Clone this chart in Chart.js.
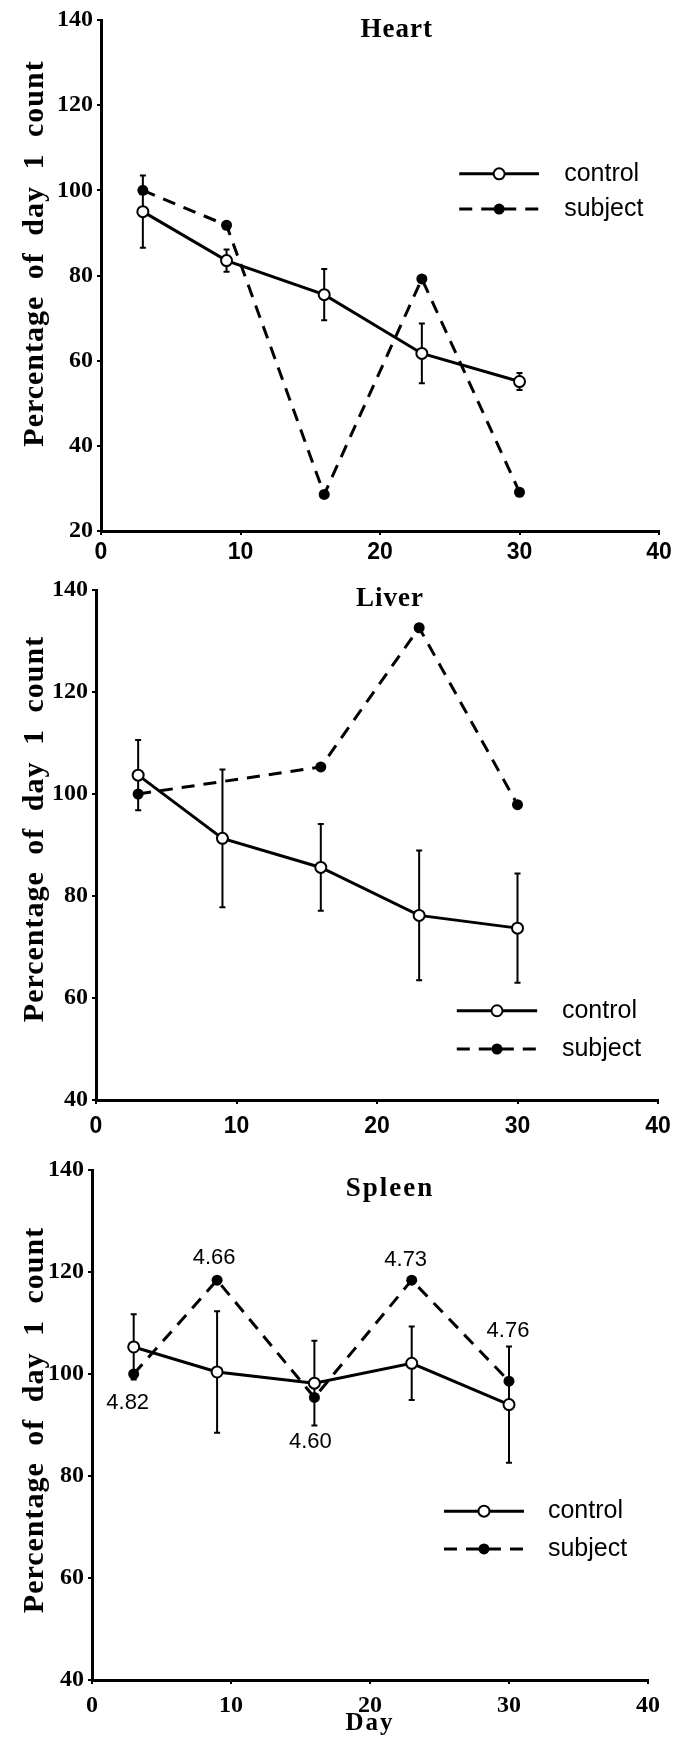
<!DOCTYPE html>
<html><head><meta charset="utf-8">
<script src="https://cdn.jsdelivr.net/npm/chart.js@4/dist/chart.umd.min.js"></script>
<style>
html,body{margin:0;padding:0;background:#fff;}
body{width:673px;height:1749px;position:relative;overflow:hidden;}
.panel{position:absolute;left:0;width:673px;}
</style></head><body>
<div class="panel" style="top:0;height:575px"><canvas id="heart"></canvas></div>
<div class="panel" style="top:575px;height:565px"><canvas id="liver"></canvas></div>
<div class="panel" style="top:1140px;height:609px"><canvas id="spleen"></canvas></div>
<script>
// ---------- data ----------
const days = [3, 9, 16, 23, 30];
const xTickValues = [0, 10, 20, 30, 40];
const heartYTicks = [20, 40, 60, 80, 100, 120, 140];
const organYTicks = [40, 60, 80, 100, 120, 140];
const seriesNames = ['control', 'subject'];
const yAxisTitle = 'Percentage of day 1 count';
const xAxisTitle = 'Day';

const heartControl = [95, 83.5, 75.5, 61.7, 55.1];
const heartControlErr = [8.5, 2.6, 6, 7, 2];
const heartSubject = [100, 91.8, 28.6, 79.2, 29.1];

const liverControl = [103.7, 91.3, 85.6, 76.2, 73.7];
const liverControlErr = [6.9, 13.5, 8.5, 12.7, 10.7];
const liverSubject = [100, null, 105.3, 132.6, 97.9];

const spleenControl = [105.3, 100.4, 98.2, 102.1, 94];
const spleenControlErr = [6.4, 11.9, 8.3, 7.2, 11.4];
const spleenSubject = [100, 118.4, 95.4, 118.4, 98.6];
const spleenSubjectLabels = ['4.82', '4.66', '4.60', '4.73', '4.76'];

// ---------- layout / style ----------
const SERIF = '"Liberation Serif", "Times New Roman", serif';
const SANS = '"Liberation Sans", Arial, sans-serif';
const panels = [
  { id: 'heart', title: 'Heart', yMin: 20, yMax: 140, yTicks: heartYTicks,
    control: heartControl, err: heartControlErr, subject: heartSubject,
    H: 575, top: 20, left: 101, right: 14, xh: 44, xFont: {family: SANS, size: 23, weight: 'bold'}, xPad: 4,
    yTitleShift: -22,
    titlePos: [0.53, 10], legend: {x1: 0.642, x2: 0.785, tx: 0.83, y: [0.301, 0.37]} },
  { id: 'liver', title: 'Liver', yMin: 40, yMax: 140, yTicks: organYTicks,
    control: liverControl, err: liverControlErr, subject: liverSubject,
    H: 565, top: 15, left: 96, right: 15, xh: 40, xFont: {family: SANS, size: 23, weight: 'bold'}, xPad: 9,
    yTitleShift: -16,
    titlePos: [0.523, 9], legend: {x1: 0.642, x2: 0.785, tx: 0.829, y: [0.825, 0.9]} },
  { id: 'spleen', title: 'Spleen', yMin: 40, yMax: 140, yTicks: organYTicks,
    control: spleenControl, err: spleenControlErr, subject: spleenSubject,
    labels: spleenSubjectLabels, labelOffsets: [[-6, 29], [-3, -22], [-4, 44], [-6, -20], [-1, -50]],
    H: 609, top: 30, left: 92, right: 25, xh: 69, xFont: {family: SERIF, size: 24, weight: 'bold'}, xPad: 7,
    yTitleShift: -5,
    xTitle: true, titlePos: [0.536, 19], legend: {x1: 0.633, x2: 0.777, tx: 0.82, y: [0.669, 0.743]} }
];

const DASH = [13, 9];

function drawMarker(ctx, x, y, k) {
  ctx.save();
  ctx.setLineDash([]);
  ctx.beginPath();
  ctx.arc(x, y, 5.5, 0, Math.PI * 2);
  if (k === 0) {
    ctx.fillStyle = '#fff'; ctx.fill();
    ctx.lineWidth = 2; ctx.strokeStyle = '#000'; ctx.stroke();
  } else {
    ctx.fillStyle = '#000'; ctx.fill();
  }
  ctx.restore();
}

function extras(P) {
  return {
    id: 'extras',
    beforeDraw(chart) {
      const sy = chart.scales.y, sx = chart.scales.x;
      if (sy && !sy._spaced) {
        const orig = sy.drawTitle;
        sy.drawTitle = function () {
          const c = this.ctx; c.save();
          c.translate(0, P.yTitleShift);
          try { c.letterSpacing = '1px'; c.wordSpacing = '8px'; } catch (e) {}
          orig.apply(this, arguments);
          c.restore();
        };
        sy._spaced = true;
      }
      if (sx && !sx._spaced) {
        const origx = sx.drawTitle;
        sx.drawTitle = function () {
          const c = this.ctx; c.save();
          try { c.letterSpacing = '2px'; } catch (e) {}
          origx.apply(this, arguments);
          c.restore();
        };
        sx._spaced = true;
      }
    },
    beforeDatasetsDraw(chart) {
      const ctx = chart.ctx, xs = chart.scales.x, ys = chart.scales.y;
      ctx.save();
      ctx.strokeStyle = '#000'; ctx.lineWidth = 2;
      P.control.forEach((v, i) => {
        if (v == null) return;
        const x = xs.getPixelForValue(days[i]);
        const y1 = ys.getPixelForValue(v + P.err[i]);
        const y2 = ys.getPixelForValue(v - P.err[i]);
        ctx.beginPath();
        ctx.moveTo(x, y1); ctx.lineTo(x, y2);
        ctx.moveTo(x - 3, y1); ctx.lineTo(x + 3, y1);
        ctx.moveTo(x - 3, y2); ctx.lineTo(x + 3, y2);
        ctx.stroke();
      });
      ctx.restore();
    },
    afterDraw(chart) {
      const ctx = chart.ctx, a = chart.chartArea, xs = chart.scales.x, ys = chart.scales.y;
      const w = a.right - a.left, h = a.bottom - a.top;
      ctx.save();
      // panel title
      ctx.fillStyle = '#000';
      ctx.font = 'bold 27px ' + SERIF;
      try { ctx.letterSpacing = P.id === 'spleen' ? '2px' : '1px'; } catch (e) {}
      ctx.textAlign = 'center'; ctx.textBaseline = 'middle';
      ctx.fillText(P.title, a.left + P.titlePos[0] * w, a.top + P.titlePos[1]);
      try { ctx.letterSpacing = '0px'; } catch (e) {}
      // legend
      const L = P.legend;
      seriesNames.forEach((name, k) => {
        const y = a.top + L.y[k] * h;
        const x1 = a.left + L.x1 * w, x2 = a.left + L.x2 * w;
        ctx.save();
        ctx.strokeStyle = '#000'; ctx.lineWidth = 3;
        ctx.setLineDash(k === 0 ? [] : DASH);
        ctx.beginPath(); ctx.moveTo(x1, y); ctx.lineTo(x2, y); ctx.stroke();
        ctx.restore();
        drawMarker(ctx, (x1 + x2) / 2, y, k);
        ctx.fillStyle = '#000';
        ctx.font = '25px ' + SANS;
        ctx.textAlign = 'left'; ctx.textBaseline = 'middle';
        ctx.fillText(name, a.left + L.tx * w, y);
      });
      // point annotations
      if (P.labels) {
        ctx.font = '22px ' + SANS;
        ctx.textAlign = 'center'; ctx.textBaseline = 'middle';
        P.labels.forEach((t, i) => {
          const x = xs.getPixelForValue(days[i]) + P.labelOffsets[i][0];
          const y = ys.getPixelForValue(P.subject[i]) + P.labelOffsets[i][1];
          ctx.fillText(t, x, y);
        });
      }
      ctx.restore();
    }
  };
}

panels.forEach(P => {
  const ctx = document.getElementById(P.id);
  new Chart(ctx, {
    type: 'line',
    data: {
      datasets: [
        { label: seriesNames[0], data: days.map((d, i) => ({x: d, y: P.control[i]})),
          borderColor: '#000', borderWidth: 3, tension: 0,
          pointRadius: 5.5, pointBorderWidth: 2, pointBackgroundColor: '#fff', pointBorderColor: '#000' },
        { label: seriesNames[1], data: days.map((d, i) => ({x: d, y: P.subject[i]})),
          borderColor: '#000', borderWidth: 3, borderDash: DASH, tension: 0, spanGaps: true,
          pointRadius: 5.5, pointBorderWidth: 0, pointBackgroundColor: '#000', pointBorderColor: '#000' }
      ]
    },
    options: {
      responsive: true, maintainAspectRatio: false, animation: false, devicePixelRatio: 1,
      layout: { padding: { top: P.top, right: P.right, left: 0, bottom: 0 } },
      plugins: { legend: { display: false }, tooltip: { enabled: false } },
      scales: {
        x: {
          type: 'linear', min: 0, max: 40,
          afterBuildTicks: s => { s.ticks = xTickValues.map(v => ({value: v})); },
          afterFit: s => { s.height = P.xh; s.paddingLeft = 0; s.paddingRight = 0; },
          ticks: { color: '#000', font: P.xFont, padding: P.xPad, maxRotation: 0, autoSkip: false },
          grid: { display: true, drawOnChartArea: false, drawTicks: true, tickLength: 4, color: '#000', lineWidth: 2 },
          border: { display: true, color: '#000', width: 3 },
          title: { display: !!P.xTitle, text: xAxisTitle, color: '#000',
                   font: { family: SERIF, size: 25, weight: 'bold' }, padding: { top: 0, bottom: 10 } }
        },
        y: {
          type: 'linear', min: P.yMin, max: P.yMax,
          afterBuildTicks: s => { s.ticks = P.yTicks.map(v => ({value: v})); },
          afterFit: s => { s.width = P.left; s.paddingTop = 0; s.paddingBottom = 0; },
          ticks: { color: '#000', font: { family: SERIF, size: 24, weight: 'bold' }, padding: 4 },
          grid: { display: true, drawOnChartArea: false, drawTicks: true, tickLength: 4, color: '#000', lineWidth: 2 },
          border: { display: true, color: '#000', width: 3 },
          title: { display: true, text: yAxisTitle, color: '#000',
                   font: { family: SERIF, size: 30, weight: 'bold' }, padding: { top: 17, bottom: 0 } }
        }
      }
    },
    plugins: [extras(P)]
  });
});
</script>
</body></html>
